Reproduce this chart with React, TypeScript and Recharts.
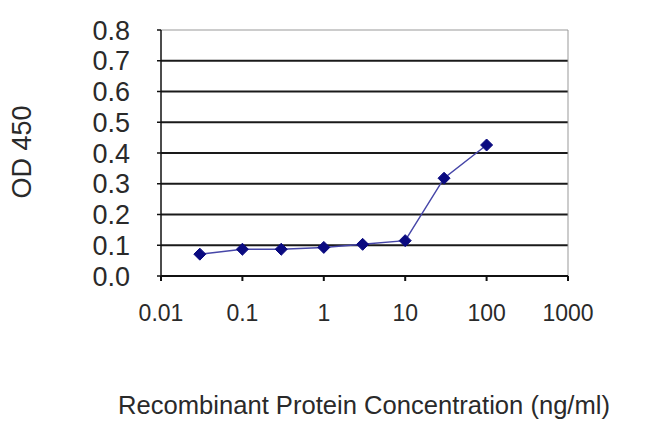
import React from 'react'
import { LineChart, Line, XAxis, YAxis, ReferenceLine, Label } from 'recharts'

const concentrations = [0.03, 0.1, 0.3, 1, 3, 10, 30, 100]
const odValues = [0.071, 0.087, 0.087, 0.093, 0.103, 0.115, 0.318, 0.426]
const xTicks = [0.01, 0.1, 1, 10, 100, 1000]
const yTicks = [0, 0.1, 0.2, 0.3, 0.4, 0.5, 0.6, 0.7, 0.8]
const gridLevels = [0.1, 0.2, 0.3, 0.4, 0.5, 0.6, 0.7]

const data = concentrations.map((c, i) => ({ conc: c, od: odValues[i] }))

const font = '"Liberation Sans", Arial, sans-serif'

const Diamond = (props: { cx?: number; cy?: number; index?: number }) => {
    const { cx, cy } = props
    if (cx == null || cy == null) return null
    const r = 6
    return (
        <polygon
            key={props.index}
            points={`${cx},${cy - r} ${cx + r},${cy} ${cx},${cy + r} ${cx - r},${cy}`}
            fill="#0a0a80"
            stroke="#0a0a80"
            strokeWidth={1}
        />
    )
}

export default function App() {
    return (
        <div style={{ position: 'absolute', left: 0, top: 0, width: 650, height: 433, background: '#fff' }}>
            <LineChart
                width={650}
                height={433}
                data={data}
                margin={{ top: 30, right: 82, left: 0, bottom: 0 }}
            >
                <XAxis
                    dataKey="conc"
                    type="number"
                    scale="log"
                    domain={[0.01, 1000]}
                    ticks={xTicks}
                    allowDataOverflow
                    height={157}
                    stroke="#111"
                    strokeWidth={2}
                    tickSize={5}
                    tickMargin={24}
                    tick={{ fill: '#2a2a2a', fontSize: 23, fontFamily: font }}
                    tickFormatter={(v: number) => String(v)}
                >
                    <Label
                        content={() => (
                            <text
                                x={364}
                                y={414}
                                textAnchor="middle"
                                fontSize={25}
                                fontFamily={font}
                                fill="#2a2a2a"
                                textLength={492}
                                lengthAdjust="spacingAndGlyphs"
                            >
                                Recombinant Protein Concentration (ng/ml)
                            </text>
                        )}
                    />
                </XAxis>
                <YAxis
                    type="number"
                    domain={[0, 0.8]}
                    ticks={yTicks}
                    interval={0}
                    width={161}
                    stroke="#111"
                    strokeWidth={1.5}
                    tickSize={4}
                    tickMargin={27}
                    tick={{ fill: '#2a2a2a', fontSize: 27, fontFamily: font }}
                    tickFormatter={(v: number) => v.toFixed(1)}
                >
                    <Label
                        content={() => (
                            <text
                                x={31}
                                y={152}
                                textAnchor="middle"
                                fontSize={27}
                                fontFamily={font}
                                fill="#2a2a2a"
                                transform="rotate(-90 31 152)"
                            >
                                OD 450
                            </text>
                        )}
                    />
                </YAxis>
                {gridLevels.map((g) => (
                    <ReferenceLine key={g} y={g} stroke="#1a1a1a" strokeWidth={2} />
                ))}
                <ReferenceLine y={0.8} stroke="#999" strokeWidth={1} />
                <ReferenceLine x={1000} stroke="#999" strokeWidth={1} />
                <Line
                    type="linear"
                    dataKey="od"
                    stroke="#4646a8"
                    strokeWidth={1.5}
                    dot={<Diamond />}
                    activeDot={false}
                    isAnimationActive={false}
                />
            </LineChart>
        </div>
    )
}
